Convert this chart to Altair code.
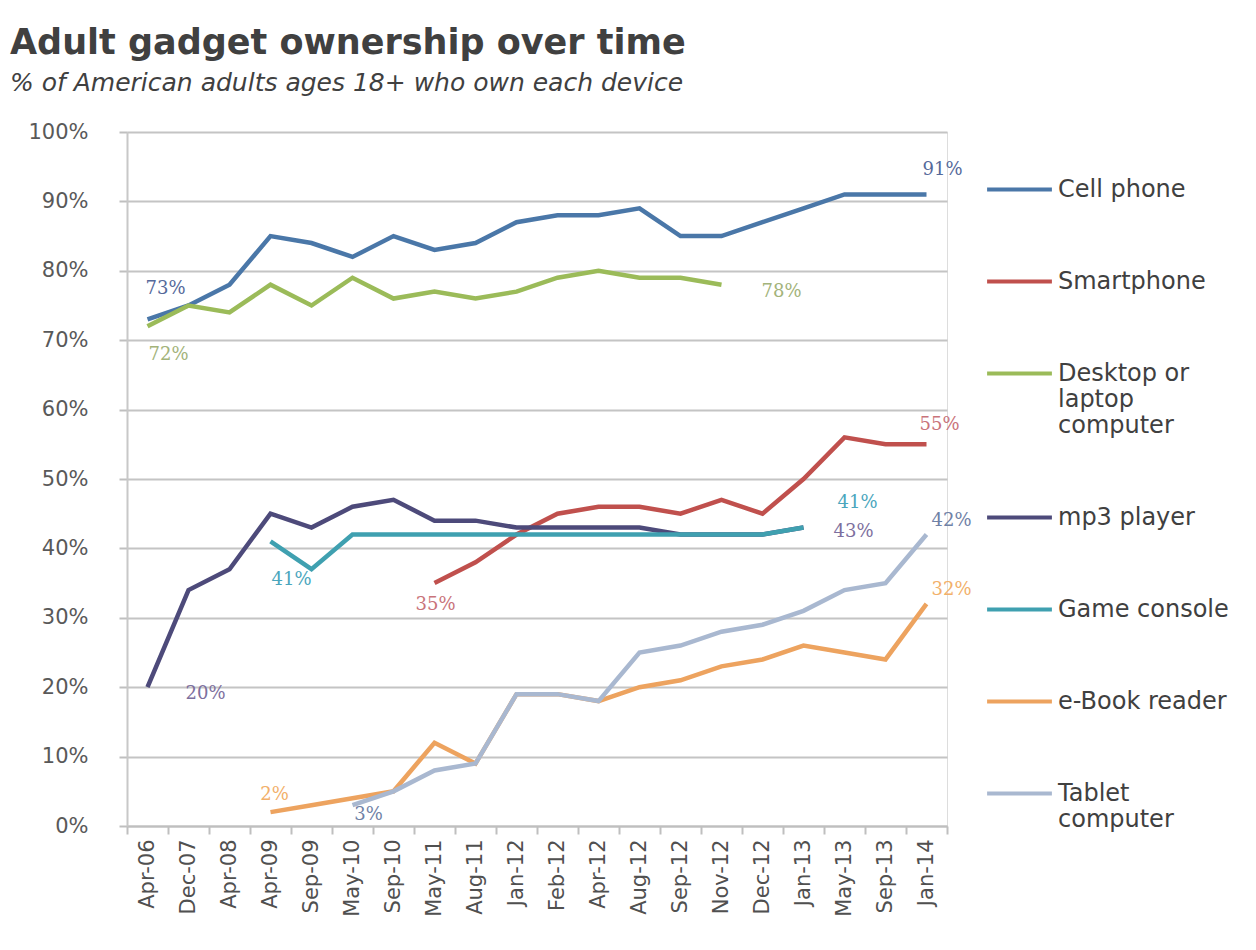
import altair as alt
import pandas as pd

# ---- data ----
categories = ["Apr-06", "Dec-07", "Apr-08", "Apr-09", "Sep-09", "May-10", "Sep-10",
              "May-11", "Aug-11", "Jan-12", "Feb-12", "Apr-12", "Aug-12", "Sep-12",
              "Nov-12", "Dec-12", "Jan-13", "May-13", "Sep-13", "Jan-14"]

series_names = ["Cell phone", "Smartphone", "Desktop or laptop computer", "mp3 player",
                "Game console", "e-Book reader", "Tablet computer"]

N = None
cell_phone = [73, 75, 78, 85, 84, 82, 85, 83, 84, 87, 88, 88, 89, 85, 85, 87, 89, 91, 91, 91]
smartphone = [N, N, N, N, N, N, N, 35, 38, 42, 45, 46, 46, 45, 47, 45, 50, 56, 55, 55]
desktop = [72, 75, 74, 78, 75, 79, 76, 77, 76, 77, 79, 80, 79, 79, 78, N, N, N, N, N]
mp3_player = [20, 34, 37, 45, 43, 46, 47, 44, 44, 43, 43, 43, 43, 42, 42, 42, 43, N, N, N]
game_console = [N, N, N, 41, 37, 42, 42, 42, 42, 42, 42, 42, 42, 42, 42, 42, 43, N, N, N]
ebook_reader = [N, N, N, 2, 3, 4, 5, 12, 9, 19, 19, 18, 20, 21, 23, 24, 26, 25, 24, 32]
tablet = [N, N, N, N, N, 3, 5, 8, 9, 19, 19, 18, 25, 26, 28, 29, 31, 34, 35, 42]

series_values = [cell_phone, smartphone, desktop, mp3_player, game_console, ebook_reader, tablet]

# data labels: (series, category, text)
label_series = ["Cell phone", "Desktop or laptop computer", "mp3 player", "Cell phone",
                "Desktop or laptop computer", "Smartphone", "Game console", "mp3 player",
                "Tablet computer", "e-Book reader", "Game console", "Smartphone",
                "e-Book reader", "Tablet computer"]
label_cats = ["Apr-06", "Apr-06", "Apr-06", "Jan-14", "Nov-12", "Jan-14", "Jan-13", "Jan-13",
              "Jan-14", "Jan-14", "Sep-09", "May-11", "Apr-09", "May-10"]
label_texts = ["73%", "72%", "20%", "91%", "78%", "55%", "41%", "43%",
               "42%", "32%", "41%", "35%", "2%", "3%"]

# ---- styles ----
line_colors = ["#4a77a8", "#c0504d", "#9bbb59", "#4d4a7a", "#3fa0b0", "#eda35f", "#a9b8d0"]
text_colors = {"Cell phone": "#55699a", "Smartphone": "#c9737a",
               "Desktop or laptop computer": "#a3b37a", "mp3 player": "#7d6f9e",
               "Game console": "#4aa6bd", "e-Book reader": "#f2b06a",
               "Tablet computer": "#6f81a6"}
label_offsets = [(18, -30), (21, 29), (58, 7), (16, -24), (60, 7), (13, -19), (54, -25),
                 (50, 4), (25, -14), (25, -14), (-20, 11), (1, 22), (4, -17), (16, 10)]

rows = []
for name, vals in zip(series_names, series_values):
    for cat, v in zip(categories, vals):
        if v is not None:
            rows.append({"series": name, "cat": cat, "value": v})
df = pd.DataFrame(rows)

x_enc = alt.X("cat:N", sort=categories, bandPosition=0.5,
              scale=alt.Scale(paddingInner=0, paddingOuter=0),
              axis=alt.Axis(title=None, labelAngle=-90, labelFont="DejaVu Sans",
                            labelFontSize=21, labelColor="#505050", labelPadding=5,
                            tickBand="extent", tickSize=8, tickColor="#bfbfbf",
                            tickWidth=2, domainColor="#bfbfbf", domainWidth=2,
                            grid=False))
y_enc = alt.Y("value:Q", scale=alt.Scale(domain=[0, 100]),
              axis=alt.Axis(title=None, values=list(range(0, 101, 10)),
                            labelExpr="datum.value + '%'", labelFont="DejaVu Sans",
                            labelFontSize=21, labelColor="#595959", labelPadding=31,
                            tickSize=8, tickColor="#bfbfbf", tickWidth=2,
                            domainColor="#c8c8c8", domainWidth=2,
                            grid=True, gridColor="#c4c4c4", gridWidth=2))

legend = alt.Legend(orient="none", legendX=858, legendY=23, title=None,
                    symbolType="stroke", symbolSize=4200, symbolStrokeWidth=4,
                    labelFont="DejaVu Sans", labelFontSize=24, labelColor="#404040",
                    labelLimit=300, rowPadding=45,
                    labelExpr="datum.label == 'Desktop or laptop computer' ? ['Desktop or', 'laptop', 'computer'] : datum.label == 'Tablet computer' ? ['Tablet', 'computer'] : datum.label")

lines = alt.Chart(df).mark_line(strokeWidth=4.5).encode(
    x=x_enc,
    y=y_enc,
    color=alt.Color("series:N", sort=series_names,
                    scale=alt.Scale(domain=series_names, range=line_colors),
                    legend=legend),
    order=alt.Order("idx:Q"),
).transform_calculate(
    idx="indexof(" + str(categories).replace("'", '"') + ", datum.cat)"
)

layers = [lines]
for s, c, t, (dx, dy) in zip(label_series, label_cats, label_texts, label_offsets):
    v = series_values[series_names.index(s)][categories.index(c)]
    ldf = pd.DataFrame([{"cat": c, "value": v, "text": t}])
    layers.append(
        alt.Chart(ldf).mark_text(font="DejaVu Serif", fontSize=18, dx=dx, dy=dy,
                                 color=text_colors[s]).encode(
            x=alt.X("cat:N", sort=categories, bandPosition=0.5),
            y=alt.Y("value:Q"),
            text="text:N",
        )
    )

chart = alt.layer(*layers).properties(
    width=820,
    height=694,
    autosize=alt.AutoSizeParams(type="none"),
    padding={"left": 127, "top": 132, "right": 309, "bottom": 124},
    title=alt.TitleParams(
        text="Adult gadget ownership over time",
        subtitle="% of American adults ages 18+ who own each device",
        anchor="start", frame="group", dx=-117, offset=25,
        font="DejaVu Sans", fontSize=35, fontWeight="bold", color="#404040",
        subtitleFont="DejaVu Sans", subtitleFontStyle="italic", subtitleFontSize=25,
        subtitleColor="#404040", subtitlePadding=10,
    ),
).configure_view(stroke=None).configure(background="white")

chart.save("out.html", embed_options={"renderer": "svg", "actions": False})
